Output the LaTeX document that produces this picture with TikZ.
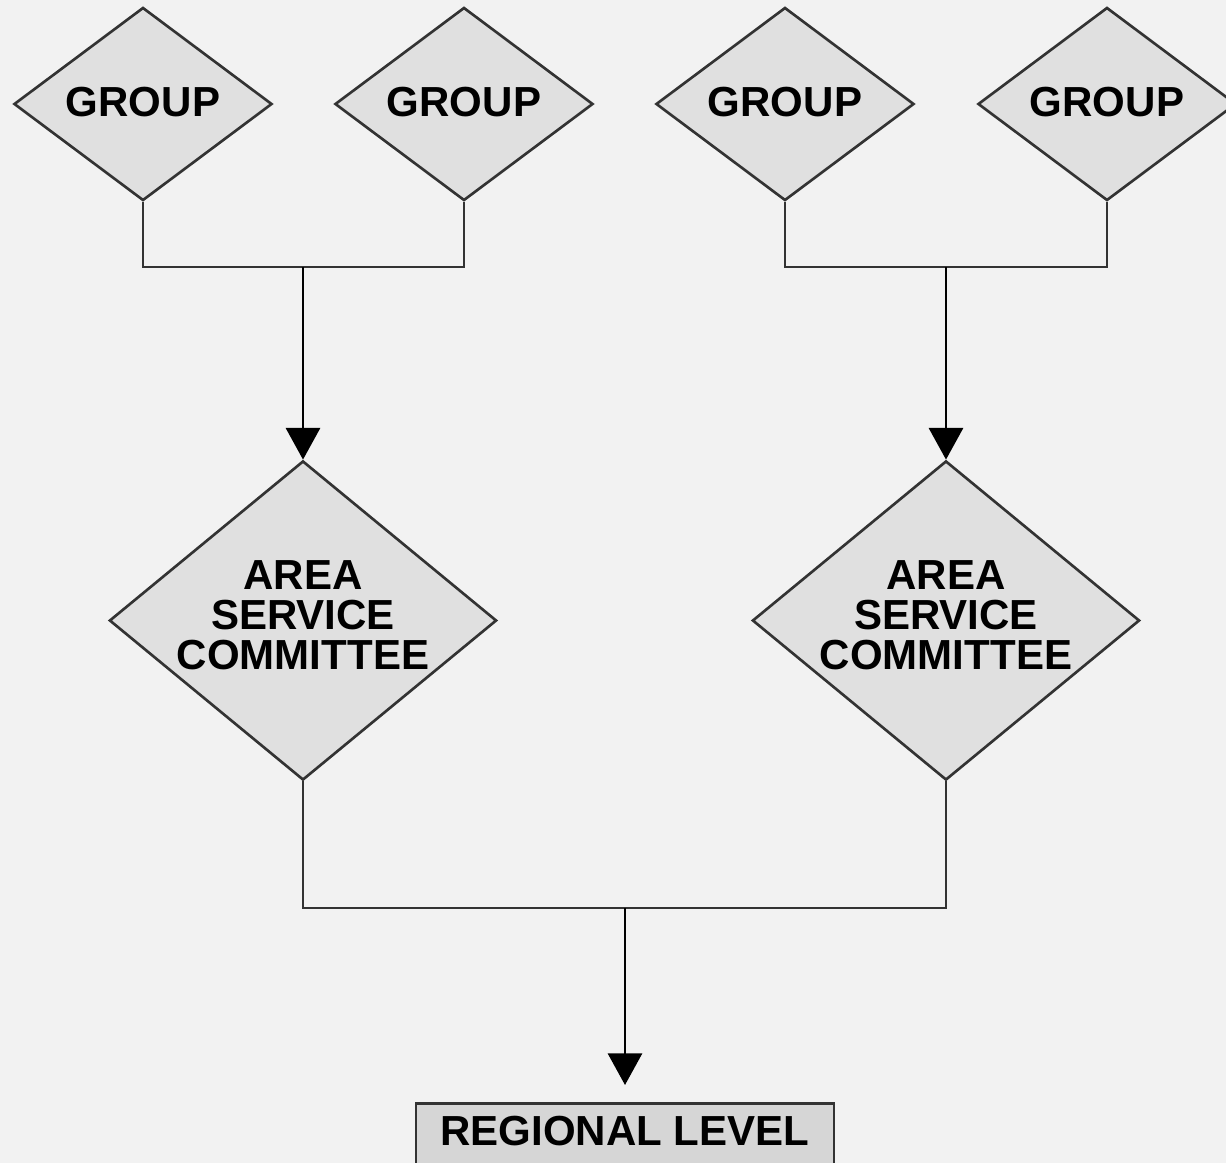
\documentclass[tikz,border=0pt]{standalone}
\usepackage{fontspec}
\setmainfont{Liberation Sans}
\usetikzlibrary{shapes.geometric,arrows.meta}
\definecolor{bg}{HTML}{F2F2F2}
\definecolor{dfill}{HTML}{E0E0E0}
\definecolor{bfill}{HTML}{D6D6D6}
\definecolor{ln}{HTML}{333333}
\tikzset{
  grp/.style={diamond, draw=ln, fill=dfill, line width=0.75pt, inner sep=0pt,
    minimum width=2.58cm, minimum height=1.93cm},
  area/.style={diamond, draw=ln, fill=dfill, line width=0.75pt, inner sep=0pt,
    minimum width=3.87cm, minimum height=3.19cm},
  regbox/.style={rectangle, draw=ln, fill=bfill, line width=0.75pt, inner sep=0pt,
    minimum width=4.18cm, minimum height=0.75cm, anchor=north},
  lbl/.style={inner sep=0pt, align=center, text=black,
    font=\fontsize{11.95}{11.4}\selectfont\bfseries},
  conn/.style={draw=ln, line width=0.75pt},
  arr/.style={conn, -{Triangle[length=9pt,width=9.7pt]}, draw=black, fill=black},
}
\begin{document}
\begin{tikzpicture}[x=0.01cm,y=-0.01cm]
\useasboundingbox (0,0) rectangle (1226,1163);
\clip (0,0) rectangle (1226,1163);
\fill[bg] (0,0) rectangle (1226,1163);
% group diamonds
\node[grp] (g1) at (143,104) {};
\node[grp] (g2) at (464,104) {};
\node[grp] (g3) at (785,104) {};
\node[grp] (g4) at (1107,104) {};
\node[lbl] (t1) at (143,102) {GROUP};
\node[lbl] (t2) at (464,102) {GROUP};
\node[lbl] (t3) at (785,102) {GROUP};
\node[lbl] (t4) at (1107,102) {GROUP};
% area diamonds
\node[area] (a1) at (303,620.5) {};
\node[area] (a2) at (946,620.5) {};
\node[lbl] (at1) at (303,615) {AREA\\SERVICE\\COMMITTEE};
\node[lbl] (at2) at (946,615) {AREA\\SERVICE\\COMMITTEE};
% regional box
\node[regbox] (reg) at (625,1102) {};
\node[lbl] (rt) at (625,1131) {REGIONAL LEVEL};
% junctions
\coordinate (j1) at (303,267);
\coordinate (j2) at (946,267);
\coordinate (j3) at (625,908);
% connectors
\draw[conn] (g1.south) |- (j1) -| (g2.south);
\draw[conn] (g3.south) |- (j2) -| (g4.south);
\draw[arr] (j1) -- (a1.north);
\draw[arr] (j2) -- (a2.north);
\draw[conn] (a1.south) |- (j3) -| (a2.south);
\draw[arr, shorten >=0.17cm] (j3) -- (reg.north);
\end{tikzpicture}
\end{document}
